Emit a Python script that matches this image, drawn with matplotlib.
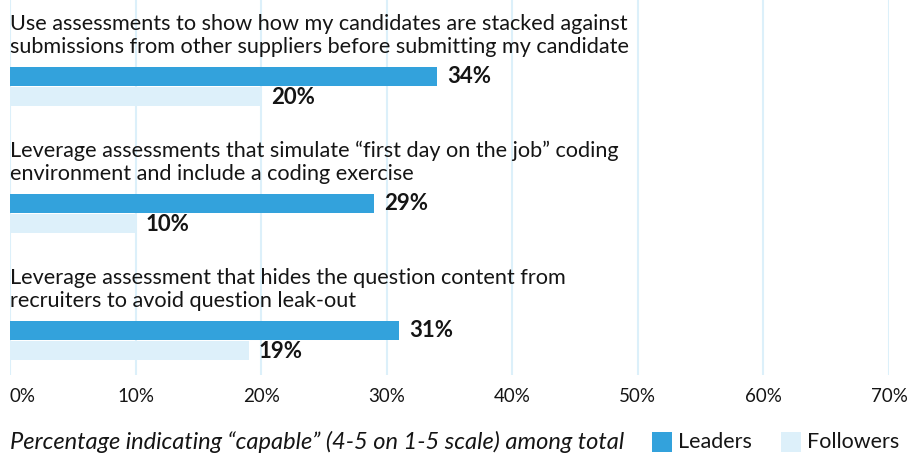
import matplotlib.pyplot as plt
from matplotlib.patches import Rectangle

categories = [
    "Use assessments to show how my candidates are stacked against\nsubmissions from other suppliers before submitting my candidate",
    "Leverage assessments that simulate \u201cfirst day on the job\u201d coding\nenvironment and include a coding exercise",
    "Leverage assessment that hides the question content from\nrecruiters to avoid question leak-out",
]
leaders = [34, 29, 31]
followers = [20, 10, 19]
ticks = [0, 10, 20, 30, 40, 50, 60, 70]
series_names = ['Leaders', 'Followers']

lead_color = '#33a2dc'
foll_color = '#ddf0fa'
grid_color = '#dcf0fa'
text_color = '#151515'

plt.rcParams['font.family'] = ['Lato', 'DejaVu Sans']

W, H = 912, 453
fig = plt.figure(figsize=(W / 100, H / 100), dpi=100)
ax = fig.add_axes([10 / W, 1 - 375 / H, 879 / W, 375 / H])

# y in pixel-like units, top = 0
first_center = 76.5
gap = 127
bar_h = 19.5

for i in range(len(categories)):
    yl = first_center + i * gap
    yf = yl + 20
    ax.barh(yl, leaders[i], height=bar_h, color=lead_color, zorder=3)
    ax.barh(yf, followers[i], height=bar_h, color=foll_color, zorder=3)
    ax.text(leaders[i] + 0.8, yl, f'{leaders[i]}%', va='center', ha='left',
            fontsize=16, fontweight='bold', color=text_color)
    ax.text(followers[i] + 0.8, yf + 1, f'{followers[i]}%', va='center', ha='left',
            fontsize=16, fontweight='bold', color=text_color)
    ax.text(0, yl - bar_h / 2 - 10, categories[i], va='bottom', ha='left',
            fontsize=15.6, color=text_color, linespacing=1.15)

ax.set_xlim(0, 70)
ax.set_ylim(375, 0)
for t in ticks:
    ax.axvline(t, color=grid_color, linewidth=1.5, zorder=1)
for s in ax.spines.values():
    s.set_visible(False)
ax.set_xticks([])
ax.set_yticks([])
ax.patch.set_alpha(0)

for t in ticks:
    xf = (10 + t / 70 * 879) / W
    ha = 'left' if t == 0 else 'center'
    fig.text(xf, 1 - 397 / H, f'{t}%', ha=ha, va='center', fontsize=13.5,
             color=text_color)

fig.text(10 / W, 1 - 442 / H,
         'Percentage indicating \u201ccapable\u201d (4-5 on 1-5 scale) among total',
         ha='left', va='center', fontsize=17, style='italic', color=text_color)

# legend drawn by hand
legend_x = [652, 781]
for name, color, x0 in zip(series_names, [lead_color, foll_color], legend_x):
    fig.patches.append(Rectangle((x0 / W, 1 - 452 / H), 20 / W, 20 / H,
                                 transform=fig.transFigure, facecolor=color,
                                 edgecolor='none'))
    fig.text((x0 + 26) / W, 1 - 442 / H, name, ha='left', va='center',
             fontsize=15.5, color=text_color)

fig.savefig('out.png', dpi=100)
